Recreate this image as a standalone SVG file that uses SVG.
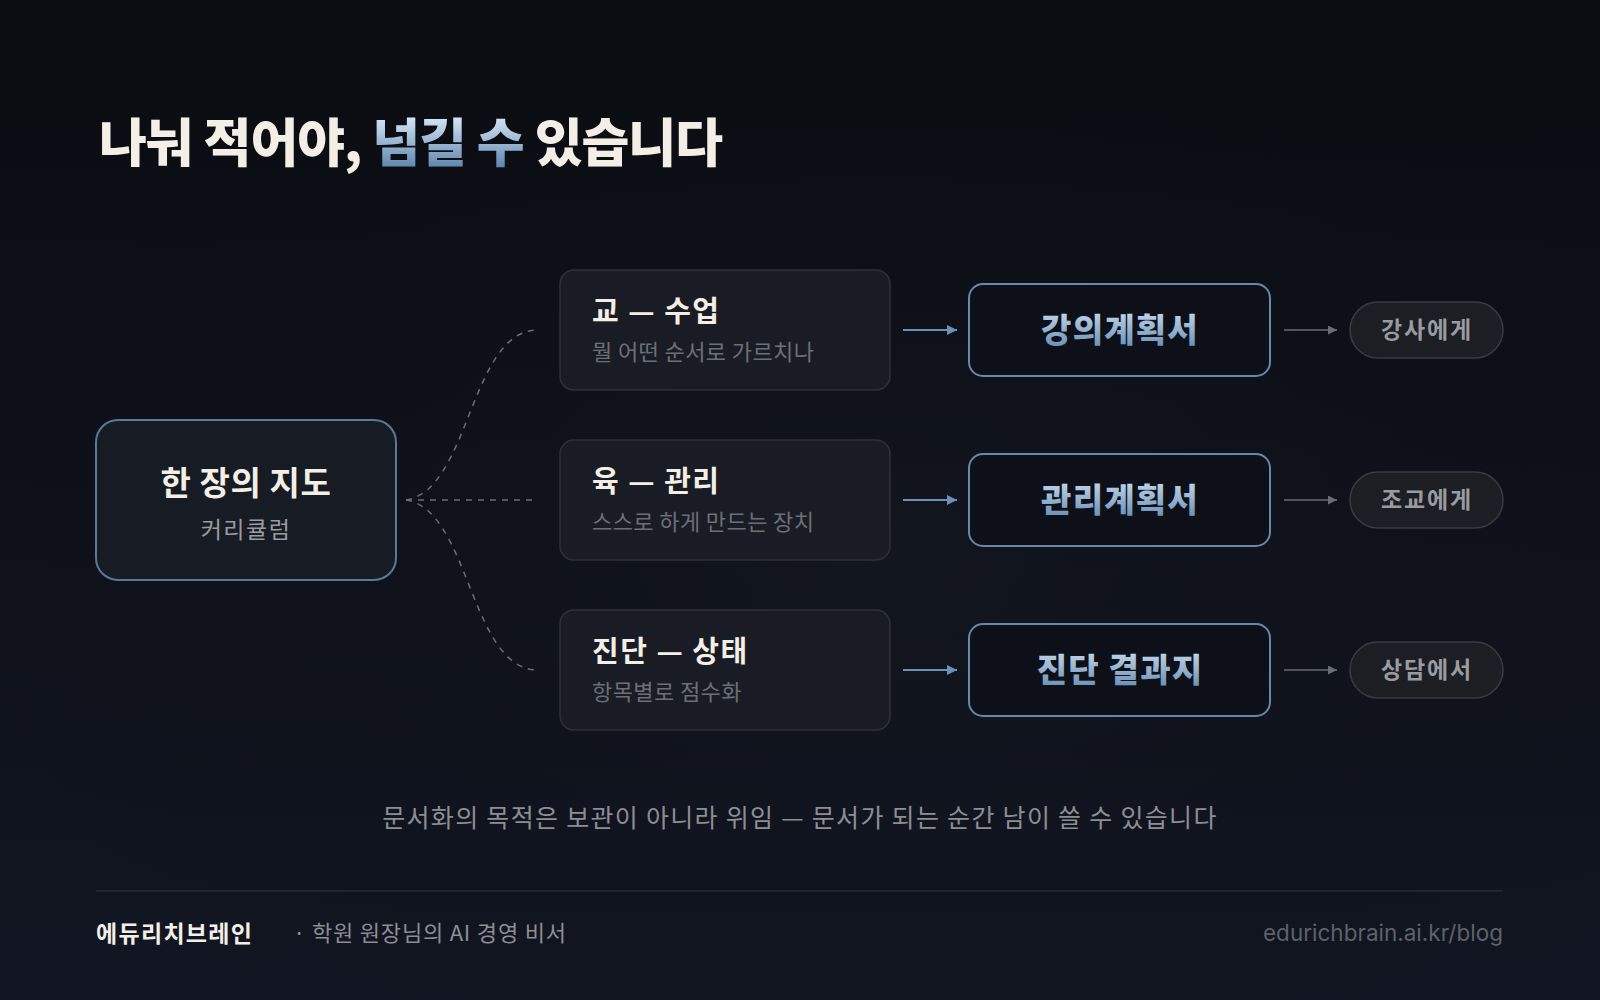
<svg xmlns="http://www.w3.org/2000/svg" width="1600" height="1000" viewBox="0 0 1600 1000">
<defs>
<linearGradient id="bg" x1="0" y1="0" x2="0" y2="1">
<stop offset="0" stop-color="#0a0c11"/>
<stop offset="1" stop-color="#121622"/>
</linearGradient>
<radialGradient id="glow" cx="0.55" cy="0.55" r="0.6">
<stop offset="0" stop-color="#161a24" stop-opacity="0.5"/>
<stop offset="1" stop-color="#0a0c11" stop-opacity="0"/>
</radialGradient>
<linearGradient id="blue" x1="0" y1="0" x2="0" y2="1">
<stop offset="0" stop-color="#d2e4f4"/>
<stop offset="1" stop-color="#5f85ad"/>
</linearGradient>
<linearGradient id="titleBlue" gradientUnits="userSpaceOnUse" x1="0" y1="118" x2="0" y2="168">
<stop offset="0" stop-color="#d2e4f4"/>
<stop offset="1" stop-color="#5f85ad"/>
</linearGradient>
<marker id="arrBlue" viewBox="0 0 10 10" refX="10" refY="5" markerWidth="12" markerHeight="10" markerUnits="userSpaceOnUse" orient="auto">
<path d="M0,0 L10,5 L0,10 Z" fill="#6b8fb5"/>
</marker>
<marker id="arrGray" viewBox="0 0 10 10" refX="10" refY="5" markerWidth="11" markerHeight="9" markerUnits="userSpaceOnUse" orient="auto">
<path d="M0,0 L10,5 L0,10 Z" fill="#6a6d73"/>
</marker>
</defs>
<style>
.k{font-family:"Noto Sans CJK KR","Noto Sans",sans-serif}
.title{font-size:52px;font-weight:800;fill:#f3efe6;letter-spacing:-1px}
.root{fill:#171b24;stroke:#5b7897;stroke-width:2}
.rootT{font-size:33px;font-weight:700;fill:#f3efe6;text-anchor:middle;letter-spacing:0.6px}
.rootS{font-size:23px;font-weight:400;fill:#9a9ba0;text-anchor:middle;letter-spacing:1.5px}
.mid{fill:#191c24;stroke:#2e3139;stroke-width:1.5}
.midT{font-size:29px;font-weight:700;fill:#f3efe6;letter-spacing:1.5px}
.midS{font-size:22px;font-weight:400;fill:#6c6f76;letter-spacing:0.4px}
.doc{fill:#0d1018;stroke:#6788a9;stroke-width:2}
.docT{font-size:33px;font-weight:800;fill:url(#blue);text-anchor:middle;letter-spacing:1.2px}
.pill{fill:#1c1e24;stroke:#383b42;stroke-width:1.5}
.pillT{font-size:23px;font-weight:700;fill:#9a9ba0;text-anchor:middle;letter-spacing:1.8px}
.dash{fill:none;stroke:#6a6d75;stroke-width:1.5;stroke-dasharray:6 6}
.ab{stroke:#6b8fb5;stroke-width:2;fill:none}
.ag{stroke:#6a6d73;stroke-width:1.5;fill:none}
.cap{font-size:25px;fill:#8c8e94;text-anchor:middle;letter-spacing:1.3px}
.brand{font-size:23px;font-weight:700;fill:#f3efe6;letter-spacing:1.3px}
.tag{font-size:22px;fill:#8c8e94;letter-spacing:0.8px}
.url{font-family:Inter,"Noto Sans",sans-serif;font-size:22.5px;fill:#5e6168;text-anchor:end}
</style>
<rect width="1600" height="1000" fill="url(#bg)"/>
<rect width="1600" height="1000" fill="url(#glow)"/>

<text class="k title" x="99" y="162">나눠 적어야, <tspan fill="url(#titleBlue)">넘길 수</tspan> 있습니다</text>

<g id="connectors">
<path class="dash" d="M406,500 C470,490 470,330 538,330"/>
<path class="dash" d="M406,500 L538,500"/>
<path class="dash" d="M406,500 C470,510 470,670 538,670"/>
<line class="ab" x1="903" y1="330" x2="957" y2="330" marker-end="url(#arrBlue)"/>
<line class="ab" x1="903" y1="500" x2="957" y2="500" marker-end="url(#arrBlue)"/>
<line class="ab" x1="903" y1="670" x2="957" y2="670" marker-end="url(#arrBlue)"/>
<line class="ag" x1="1284" y1="330" x2="1337" y2="330" marker-end="url(#arrGray)"/>
<line class="ag" x1="1284" y1="500" x2="1337" y2="500" marker-end="url(#arrGray)"/>
<line class="ag" x1="1284" y1="670" x2="1337" y2="670" marker-end="url(#arrGray)"/>
</g>

<g id="node-map">
<rect class="root" x="96" y="420" width="300" height="160" rx="22"/>
<text class="k rootT" x="246" y="495">한 장의 지도</text>
<text class="k rootS" x="246" y="538">커리큘럼</text>
</g>

<g id="node-gyo">
<rect class="mid" x="560" y="270" width="330" height="120" rx="14"/>
<text class="k midT" x="592" y="322">교 — 수업</text>
<text class="k midS" x="592" y="360">뭘 어떤 순서로 가르치나</text>
</g>
<g id="node-yuk">
<rect class="mid" x="560" y="440" width="330" height="120" rx="14"/>
<text class="k midT" x="592" y="492">육 — 관리</text>
<text class="k midS" x="592" y="530">스스로 하게 만드는 장치</text>
</g>
<g id="node-diag">
<rect class="mid" x="560" y="610" width="330" height="120" rx="14"/>
<text class="k midT" x="592" y="662">진단 — 상태</text>
<text class="k midS" x="592" y="700">항목별로 점수화</text>
</g>

<g id="doc-lecture">
<rect class="doc" x="969" y="284" width="301" height="92" rx="14"/>
<text class="k docT" x="1120" y="342">강의계획서</text>
</g>
<g id="doc-manage">
<rect class="doc" x="969" y="454" width="301" height="92" rx="14"/>
<text class="k docT" x="1120" y="512">관리계획서</text>
</g>
<g id="doc-diag">
<rect class="doc" x="969" y="624" width="301" height="92" rx="14"/>
<text class="k docT" x="1120" y="682">진단 결과지</text>
</g>

<g id="pill-teacher">
<rect class="pill" x="1350" y="302" width="153" height="56" rx="28"/>
<text class="k pillT" x="1427" y="338">강사에게</text>
</g>
<g id="pill-assistant">
<rect class="pill" x="1350" y="472" width="153" height="56" rx="28"/>
<text class="k pillT" x="1427" y="508">조교에게</text>
</g>
<g id="pill-consult">
<rect class="pill" x="1350" y="642" width="153" height="56" rx="28"/>
<text class="k pillT" x="1427" y="678">상담에서</text>
</g>

<text class="k cap" x="800" y="827">문서화의 목적은 보관이 아니라 위임 — 문서가 되는 순간 남이 쓸 수 있습니다</text>

<line x1="96" y1="891" x2="1503" y2="891" stroke="#262a33" stroke-width="1.5"/>
<text class="k brand" x="96" y="942">에듀리치브레인</text>
<text class="k tag" y="941"><tspan x="293">·</tspan><tspan x="312">학원 원장님의 AI 경영 비서</tspan></text>
<text class="url" x="1503" y="941">edurichbrain.ai.kr/blog</text>
</svg>
